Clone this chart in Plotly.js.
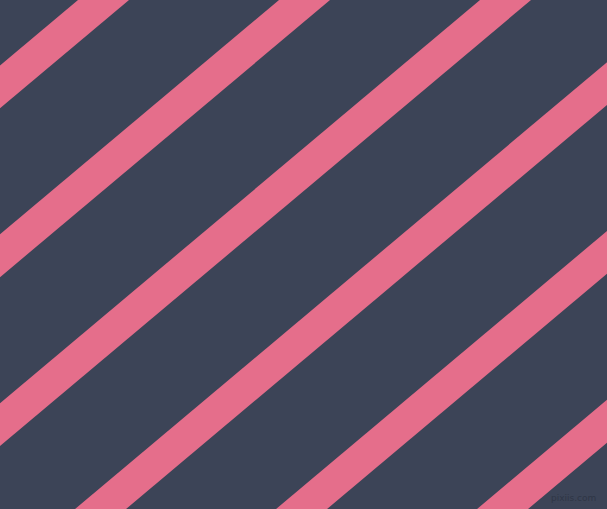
<!DOCTYPE html>
<html>
<head>
<meta charset="utf-8">
<script src="https://cdn.plot.ly/plotly-3.0.1.min.js"></script>
<style>
  html, body { margin: 0; padding: 0; background: #3c4457; }
  #chart { width: 607px; height: 509px; }
</style>
</head>
<body>
<div id="chart"></div>
<script>
// stripe data: where each stripe's left edge meets the top border (px), band width along x, slope dy/dx
var stripeStarts = [78, 279, 480, 681, 882, 1083];
var stripeWidth = 51;
var stripeSlope = 0.84;
var W = 607, H = 509;

var BG = "#3c4457", PINK = "#e56e8b";

var traces = stripeStarts.map(function (x0) {
  var dx = H / stripeSlope;
  return {
    x: [x0, x0 + stripeWidth, x0 + stripeWidth - dx, x0 - dx, x0],
    y: [0, 0, H, H, 0],
    type: "scatter", mode: "lines", fill: "toself",
    fillcolor: PINK, line: { width: 0, color: PINK },
    hoverinfo: "skip", showlegend: false
  };
});

var layout = {
  width: W, height: H,
  margin: { l: 0, r: 0, t: 0, b: 0 },
  paper_bgcolor: BG, plot_bgcolor: BG,
  xaxis: { range: [0, W], visible: false, fixedrange: true },
  yaxis: { range: [H, 0], visible: false, fixedrange: true },
  annotations: [{
    text: "pixiis.com", xref: "paper", yref: "paper", x: 0.985, y: 0.008,
    xanchor: "right", yanchor: "bottom", showarrow: false,
    font: { family: "DejaVu Sans, sans-serif", size: 9, color: "#2f3646" }
  }]
};

Plotly.newPlot("chart", traces, layout, { displayModeBar: false, staticPlot: true });
</script>
</body>
</html>
